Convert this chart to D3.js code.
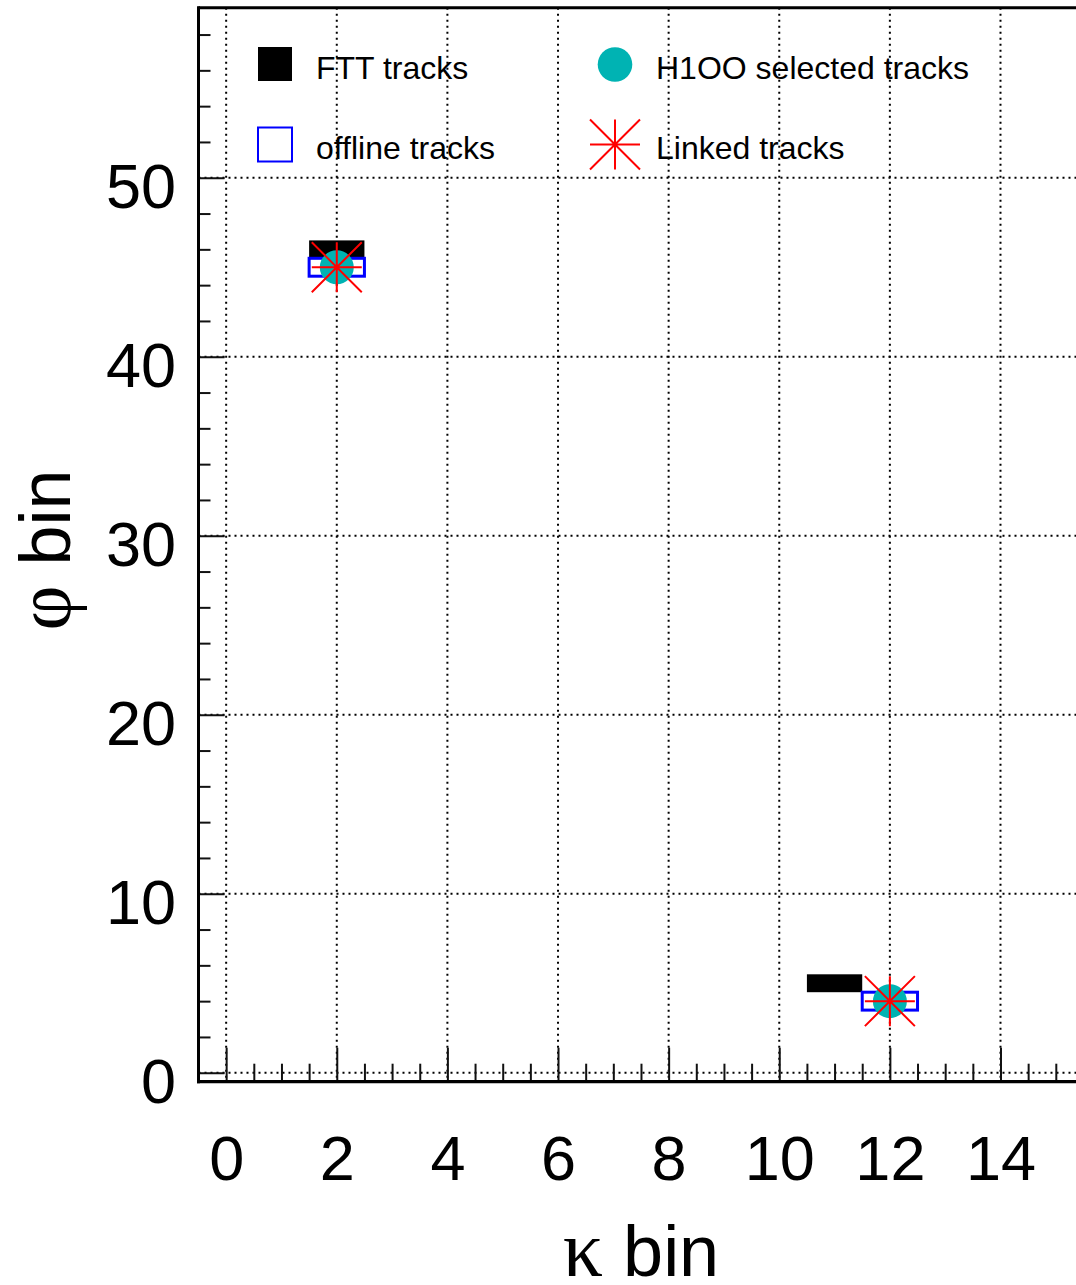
<!DOCTYPE html>
<html>
<head>
<meta charset="utf-8">
<script src="https://cdn.jsdelivr.net/npm/d3@7"></script>
<style>
  html, body { margin: 0; padding: 0; background: #fff; }
  svg { display: block; font-family: "Liberation Sans", Arial, Helvetica, sans-serif; }
</style>
</head>
<body>
<svg id="chart" width="1076" height="1285"></svg>
<script>
// Track positions in (kappa bin, phi bin)
const fttKappa = [2, 11];
const fttPhi = [46, 5];
const offlineKappa = [2, 12];
const offlinePhi = [45, 4];
const h1ooKappa = [2, 12];
const h1ooPhi = [45, 4];
const linkedKappa = [2, 12];
const linkedPhi = [45, 4];

// Axis ticks
const kappaMajor = [0, 2, 4, 6, 8, 10, 12, 14];
const kappaMinor = d3.range(0, 15.01, 0.5).filter(v => v % 2 !== 0);
const phiMajor = [0, 10, 20, 30, 40, 50];
const phiMinor = d3.range(2, 59, 2).filter(v => v % 10 !== 0);

// Legend entries
const legendLabels = ["FTT tracks", "offline tracks", "H1OO selected tracks", "Linked tracks"];

const svg = d3.select("#chart");

const x = d3.scaleLinear().domain([-0.5, 15.5]).range([198.5, 198.5 + 16 * 55.31]);
const y = d3.scaleLinear().domain([-0.5, 59.5]).range([1081.7, 7.7]);

const frameLeft = x.range()[0], frameRight = x.range()[1];
const frameTop = y.range()[1], frameBottom = y.range()[0];

// Grid
const grid = svg.append("g")
  .attr("stroke", "#000").attr("stroke-width", 2).attr("stroke-dasharray", "2,4");
grid.selectAll("line.gv").data(kappaMajor).join("line")
  .attr("class", "gv")
  .attr("x1", d => x(d)).attr("x2", d => x(d))
  .attr("y1", frameTop).attr("y2", frameBottom);
grid.selectAll("line.gh").data(phiMajor).join("line")
  .attr("class", "gh")
  .attr("y1", d => y(d)).attr("y2", d => y(d))
  .attr("x1", frameLeft).attr("x2", frameRight);

// X axis ticks (drawn inward)
const gxMinor = svg.append("g").attr("transform", `translate(0,${frameBottom})`)
  .call(d3.axisBottom(x).tickValues(kappaMinor).tickSize(-18).tickFormat(""));
const gx = svg.append("g").attr("transform", `translate(0,${frameBottom})`)
  .call(d3.axisBottom(x).tickValues(kappaMajor).tickSize(-34).tickFormat(d3.format("d")));
[gxMinor, gx].forEach(g => {
  g.select(".domain").remove();
  g.selectAll(".tick line").attr("stroke", "#111").attr("stroke-width", 2);
});
gx.selectAll(".tick text")
  .attr("y", 98).attr("dy", null)
  .attr("font-size", 63).attr("fill", "#000")
  .attr("font-family", "'Liberation Sans', Arial, sans-serif");

// Y axis ticks (drawn inward)
const gyMinor = svg.append("g").attr("transform", `translate(${frameLeft},0)`)
  .call(d3.axisLeft(y).tickValues(phiMinor).tickSize(-12).tickFormat(""));
const gy = svg.append("g").attr("transform", `translate(${frameLeft},0)`)
  .call(d3.axisLeft(y).tickValues(phiMajor).tickSize(-26).tickFormat(d3.format("d")));
[gyMinor, gy].forEach(g => {
  g.select(".domain").remove();
  g.selectAll(".tick line").attr("stroke", "#111").attr("stroke-width", 2);
});
gy.selectAll(".tick text")
  .attr("x", 176 - frameLeft).attr("y", 30).attr("dy", null)
  .attr("text-anchor", "end")
  .attr("font-size", 63).attr("fill", "#000")
  .attr("font-family", "'Liberation Sans', Arial, sans-serif");

// Frame
svg.append("line").attr("x1", frameLeft).attr("x2", 1076).attr("y1", frameTop).attr("y2", frameTop)
  .attr("stroke", "#000").attr("stroke-width", 3);
svg.append("line").attr("x1", frameLeft).attr("x2", frameLeft).attr("y1", frameTop - 1.5).attr("y2", frameBottom + 1.5)
  .attr("stroke", "#000").attr("stroke-width", 3);
svg.append("line").attr("x1", frameLeft - 1.5).attr("x2", 1076).attr("y1", frameBottom).attr("y2", frameBottom)
  .attr("stroke", "#000").attr("stroke-width", 3.3);

// Marks
const box = (k, p) => ({
  x: x(k - 0.5), y: y(p + 0.5),
  w: x(k + 0.5) - x(k - 0.5), h: y(p - 0.5) - y(p + 0.5)
});

const marks = svg.append("g");
marks.selectAll("rect.ftt").data(d3.zip(fttKappa, fttPhi)).join("rect")
  .attr("class", "ftt")
  .each(function([k, p]) {
    const b = box(k, p);
    d3.select(this).attr("x", b.x).attr("y", b.y).attr("width", b.w).attr("height", b.h);
  })
  .attr("fill", "#000");

marks.selectAll("rect.offline").data(d3.zip(offlineKappa, offlinePhi)).join("rect")
  .attr("class", "offline")
  .each(function([k, p]) {
    const b = box(k, p);
    d3.select(this).attr("x", b.x).attr("y", b.y).attr("width", b.w).attr("height", b.h);
  })
  .attr("fill", "none").attr("stroke", "#0000ff").attr("stroke-width", 3);

marks.selectAll("circle.h1oo").data(d3.zip(h1ooKappa, h1ooPhi)).join("circle")
  .attr("class", "h1oo")
  .attr("cx", d => x(d[0])).attr("cy", d => y(d[1])).attr("r", 17)
  .attr("fill", "#00b3b3");

const starPath = s => `M${-s},0L${s},0M0,${-s}L0,${s}M${-s},${-s}L${s},${s}M${-s},${s}L${s},${-s}`;

function drawStar(g, cx, cy) {
  const st = g.append("g").attr("transform", `translate(${cx},${cy})`);
  st.append("path").attr("d", starPath(25))
    .attr("stroke", "#ff0000").attr("stroke-width", 2).attr("fill", "none");
  st.append("circle").attr("r", 2).attr("fill", "#ff0000");
}
d3.zip(linkedKappa, linkedPhi).forEach(([k, p]) => drawStar(marks, x(k), y(p)));

// Legend
const legend = svg.append("g");
legend.append("rect").attr("x", 258).attr("y", 47).attr("width", 34).attr("height", 34).attr("fill", "#000");
legend.append("rect").attr("x", 258).attr("y", 127.5).attr("width", 34).attr("height", 34)
  .attr("fill", "#fff").attr("stroke", "#0000ff").attr("stroke-width", 2);
legend.append("circle").attr("cx", 615).attr("cy", 64.5).attr("r", 17.3).attr("fill", "#00b3b3");
drawStar(legend, 615, 144.5);

const legendPos = [[316, 79], [316, 159], [656, 79], [656, 159]];
legend.selectAll("text").data(legendLabels).join("text")
  .attr("x", (d, i) => legendPos[i][0]).attr("y", (d, i) => legendPos[i][1])
  .attr("font-size", 32).attr("fill", "#000")
  .text(d => d);

// Axis titles
const xt = svg.append("text")
  .attr("x", (frameLeft + frameRight) / 2).attr("y", 1276)
  .attr("text-anchor", "middle").attr("font-size", 72).attr("fill", "#000");
xt.append("tspan").attr("font-family", "'Liberation Serif', 'DejaVu Serif', serif")
  .attr("font-size", 80).text("κ");
xt.append("tspan").text(" bin");

const yt = svg.append("text")
  .attr("transform", `translate(70,550) rotate(-90)`)
  .attr("text-anchor", "middle").attr("font-size", 72).attr("fill", "#000");
yt.append("tspan").attr("font-family", "'Liberation Serif', 'DejaVu Serif', serif")
  .attr("font-size", 78).text("φ");
yt.append("tspan").text(" bin");
</script>
</body>
</html>
